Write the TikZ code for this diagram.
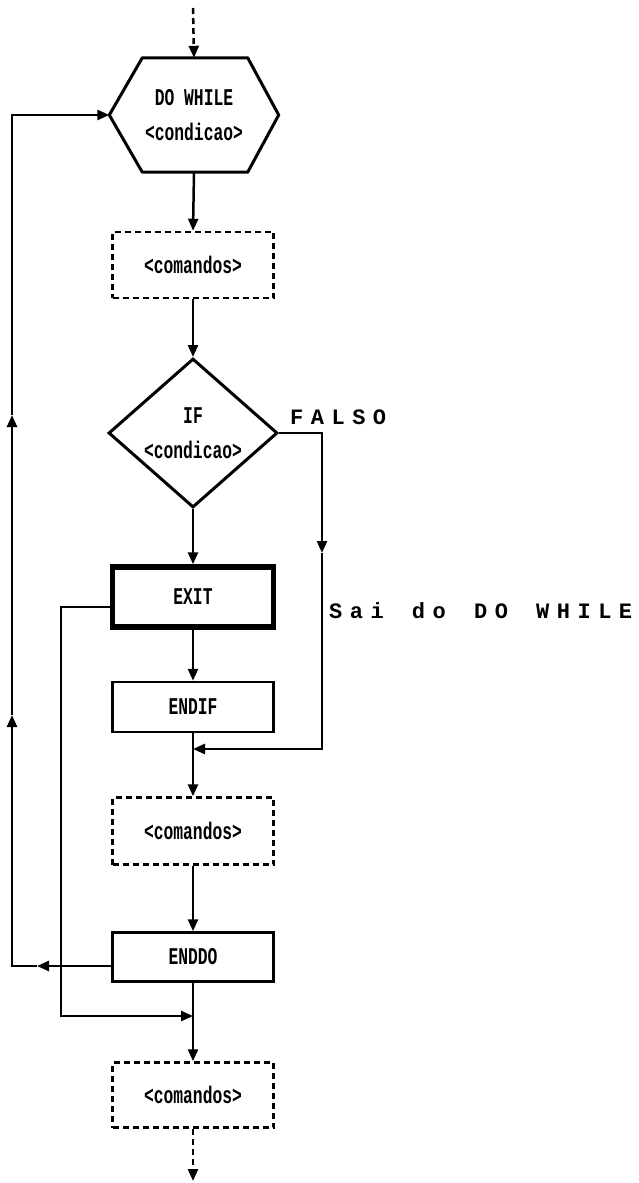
\documentclass[tikz,border=0pt]{standalone}
\usepackage{fontspec}
\usepackage{graphicx}
\usetikzlibrary{arrows.meta,shapes.geometric,calc}
\newfontfamily\boxfont{Liberation Mono}
\newcommand\tall[1]{\scalebox{1.02}[1.5]{#1}}
\newcommand\gp{\hspace{7.5pt}}
\newcommand\wg{\hspace{28.2pt}}
\begin{document}
\begin{tikzpicture}[x=1pt,y=-1pt,
  arr/.style={line width=2.5pt,-{Triangle[length=12pt,width=10pt]}},
  dsh/.style={dash pattern=on 6pt off 4pt},
  txt/.style={font=\boxfont\bfseries\fontsize{16}{35}\selectfont,align=center},
  proc/.style={draw,line width=2.5pt,minimum width=161pt,inner sep=0pt,txt},
  dbox/.style={proc,dsh},
  lbl/.style={font=\boxfont\bfseries\fontsize{22}{22}\selectfont,anchor=west,inner sep=0pt}]
\useasboundingbox (0,0) rectangle (639,1183);
\coordinate (top) at (193,8);
\coordinate (bot) at (193,1181);
% shapes
\node[minimum width=169pt,minimum height=114pt,inner sep=0pt,txt] (hex) at (194,115)
  {\tall{DO WHILE}\\\tall{<condicao>}};
\draw[line width=3pt,line join=round] (hex.west) -- ($(hex.north west)+(33,0)$)
  -- ($(hex.north east)+(-31,0)$) -- (hex.east) -- ($(hex.south east)+(-31,0)$)
  -- ($(hex.south west)+(33,0)$) -- cycle;
\node[dbox,minimum height=66pt] (c1) at (193,265) {\tall{<comandos>}};
\node[diamond,draw,line width=3pt,minimum width=169pt,minimum height=143pt,inner sep=0pt,txt] (dia) at (193,433)
  {\tall{IF}\\\tall{<condicao>}};
\node[proc,line width=5.5pt,minimum width=161pt,minimum height=60pt] (exit) at (193,597) {\tall{EXIT}};
\node[proc,minimum height=50pt] (endif) at (193,707) {\tall{ENDIF}};
\node[dbox,minimum height=67pt] (c2) at (193,831) {\tall{<comandos>}};
\node[proc,minimum height=49pt] (enddo) at (193,957) {\tall{ENDDO}};
\node[dbox,minimum height=65pt] (c3) at (193,1095) {\tall{<comandos>}};
% labels
\node[lbl] (falso) at (290,417) {F\gp A\gp L\gp S\gp O};
\node[lbl] (sai) at (329,611) {S\gp a\gp i\wg d\gp o\wg D\gp O\wg W\gp H\gp I\gp L\gp E};
% main flow
\draw[arr,dsh] (top) -- (hex.north);
\draw[arr] (hex.south) -- (c1.north);
\draw[arr] (c1.south) -- (dia.north);
\draw[arr] (dia.south) -- (exit.north);
\draw[arr] (exit.south) -- (endif.north);
\draw[arr] (endif.south) -- (c2.north);
\draw[arr] (c2.south) -- (enddo.north);
\draw[arr] (enddo.south) -- (c3.north);
\draw[arr,dsh] (c3.south) -- (bot);
% FALSO branch
\coordinate (f1) at (322,553);
\coordinate (f3) at (193,749);
\draw[arr] (dia.east) -| (f1);
\draw[arr] (f1) |- (f3);
% DO WHILE loop
\coordinate (l1) at (37,966);
\coordinate (u1) at (12,715);
\coordinate (u2) at (12,415);
\draw[arr] ($(enddo.west)+(0,9)$) -- (l1);
\draw[arr] (l1) -| (u1);
\draw[arr] (u1) -- (u2);
\draw[arr] (u2) |- (hex.west);
% EXIT
\coordinate (e1) at (61,1016);
\coordinate (e2) at (193,1016);
\draw[arr] ($(exit.west)+(0,10)$) -| (e1) -- (e2);
\end{tikzpicture}
\end{document}
